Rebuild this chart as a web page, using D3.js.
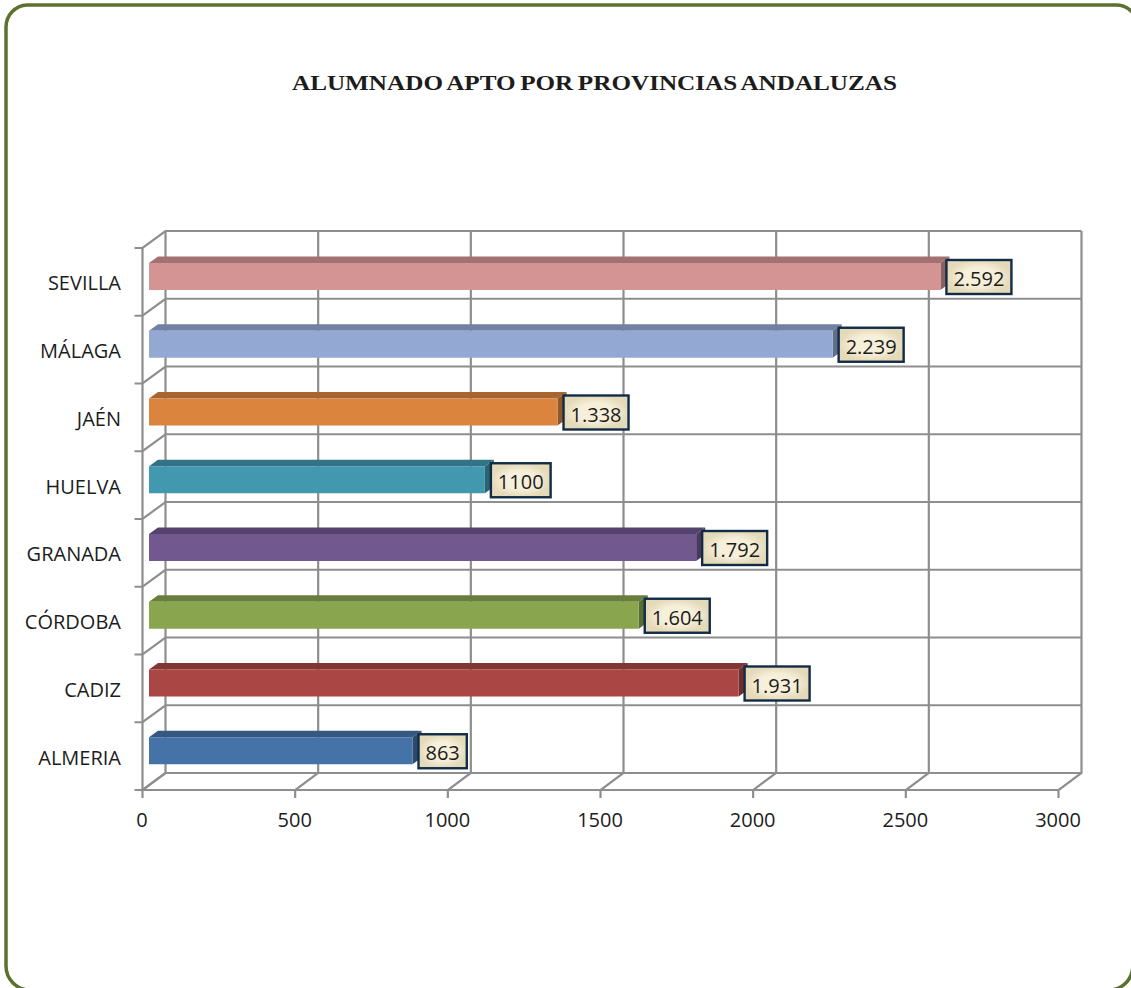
<!DOCTYPE html>
<html>
<head>
<meta charset="utf-8">
<script src="https://cdn.jsdelivr.net/npm/d3@7"></script>
<style>
  html, body { margin: 0; padding: 0; background: #fff; overflow: hidden; }
  svg { display: block; }
  text { font-family: "Open Sans", sans-serif; fill: #1c1c1c; }
</style>
</head>
<body>
<svg id="chart" width="1131" height="988"></svg>
<script>
const provincias = ["ALMERIA", "CADIZ", "CÓRDOBA", "GRANADA", "HUELVA", "JAÉN", "MÁLAGA", "SEVILLA"];
const valores = [863, 1931, 1604, 1792, 1100, 1338, 2239, 2592];
const etiquetas = ["863", "1.931", "1.604", "1.792", "1100", "1.338", "2.239", "2.592"];
const colores = ["#4572a7", "#aa4643", "#89a54e", "#71588f", "#4198af", "#db843d", "#93a9d4", "#d59494"];
const xTicks = [0, 500, 1000, 1500, 2000, 2500, 3000];

const width = 1131, height = 988;
// Proporções do "3D" do Excel
const depth = { x: 23, y: -17 };
const plot = { left: 142.5, right: 1058.5, top: 248, bottom: 790 };
const barDepth = { x: 9, y: -6.5 };
const barInset = 6.5;

const svg = d3.select("#chart");

const defs = svg.append("defs");
const labelGrad = defs.append("radialGradient").attr("id", "label-fill");
labelGrad.append("stop").attr("offset", "55%").attr("stop-color", "#f6efd9");
labelGrad.append("stop").attr("offset", "100%").attr("stop-color", "#e4d9b8");

// Moldura (a imagem original é levemente torta no lado direito)
svg.append("path")
    .attr("d", "M27,5H1116A22,22 0 0 1 1138,27L1132.8,966A24,24 0 0 1 1108.8,990H30A24,24 0 0 1 6,966V27A22,22 0 0 1 27,5Z")
    .attr("fill", "#fff")
    .attr("stroke", "#5b722f")
    .attr("stroke-width", 3.5);

svg.append("text")
    .attr("x", 594.5).attr("y", 90)
    .attr("text-anchor", "middle")
    .style("font-family", "'Liberation Serif', serif")
    .style("font-weight", "bold")
    .style("font-size", "22px")
    .style("word-spacing", "-1.5px")
    .attr("textLength", 605)
    .attr("lengthAdjust", "spacingAndGlyphs")
    .text("ALUMNADO APTO POR PROVINCIAS ANDALUZAS");

const x = d3.scaleLinear().domain([0, 3000]).range([plot.left, plot.right]);
const y = d3.scaleBand().domain(provincias).range([plot.bottom, plot.top]);

const grid = svg.append("g")
    .attr("stroke", "#8e8e8e")
    .attr("stroke-width", 2.2)
    .attr("fill", "none");

// Linhas de categoria: tique, diagonal e parede do fundo
const yEdges = provincias.map(d => y(d)).concat([plot.bottom]);
yEdges.forEach(edge => {
    grid.append("path")
        .attr("d", `M${plot.left - 8},${edge}H${plot.left}L${plot.left + depth.x},${edge + depth.y}H${plot.right + depth.x}`);
});

// Linhas de valor: tique, chão e parede do fundo
xTicks.forEach(t => {
    grid.append("path")
        .attr("d", `M${x(t)},${plot.bottom + 8}V${plot.bottom}L${x(t) + depth.x},${plot.bottom + depth.y}V${plot.top + depth.y}`);
});

grid.append("path").attr("d", `M${plot.left},${plot.top}V${plot.bottom}H${plot.right}`);

// Barras
const bars = svg.append("g").selectAll("g")
    .data(provincias)
    .enter()
    .append("g");

const barHeight = 27;
const barTop = d => y(d) + 15;
const barEnd = (d, i) => x(valores[i]) + barInset;
const x0 = plot.left + barInset;

bars.append("path")
    .attr("fill", (d, i) => d3.color(colores[i]).darker(0.75))
    .attr("d", (d, i) => `M${x0},${barTop(d)}l${barDepth.x},${barDepth.y}H${barEnd(d, i) + barDepth.x}l${-barDepth.x},${-barDepth.y}Z`);

bars.append("path")
    .attr("fill", (d, i) => d3.color(colores[i]).darker(1.2))
    .attr("d", (d, i) => `M${barEnd(d, i)},${barTop(d)}l${barDepth.x},${barDepth.y}v${barHeight}l${-barDepth.x},${-barDepth.y}Z`);

bars.append("rect")
    .attr("x", x0)
    .attr("y", d => barTop(d))
    .attr("width", (d, i) => barEnd(d, i) - x0)
    .attr("height", barHeight)
    .attr("fill", (d, i) => colores[i]);

// Rótulos de dados
bars.each(function(d, i) {
    const g = d3.select(this);
    const left = barEnd(d, i) + 6;
    const t = g.append("text")
        .attr("x", left + 7)
        .attr("y", barTop(d) + 23)
        .style("font-size", "20px")
        .text(etiquetas[i]);
    const w = t.node().getComputedTextLength();
    g.insert("rect", "text")
        .attr("x", left)
        .attr("y", barTop(d) - 3)
        .attr("width", w + 14)
        .attr("height", 34)
        .attr("fill", "url(#label-fill)")
        .attr("stroke", "#122b47")
        .attr("stroke-width", 2.4);
});

// Eixos (só os textos, as linhas já estão na grade)
const xAxis = d3.axisBottom(x).tickValues(xTicks).tickSize(0).tickPadding(0).tickFormat(d3.format("d"));
const gx = svg.append("g")
    .attr("transform", `translate(-1,${plot.bottom + 23})`)
    .call(xAxis);
gx.select(".domain").remove();
gx.selectAll("text").style("font-size", "20px").style("font-family", "'Open Sans', sans-serif").attr("fill", "#1c1c1c");

const yAxis = d3.axisLeft(y).tickSize(0).tickPadding(0);
const gy = svg.append("g")
    .attr("transform", "translate(121,0)")
    .call(yAxis);
gy.select(".domain").remove();
gy.selectAll("text").style("font-size", "20px").style("font-family", "'Open Sans', sans-serif").attr("fill", "#1c1c1c").attr("dy", "0.42em");
</script>
</body>
</html>
